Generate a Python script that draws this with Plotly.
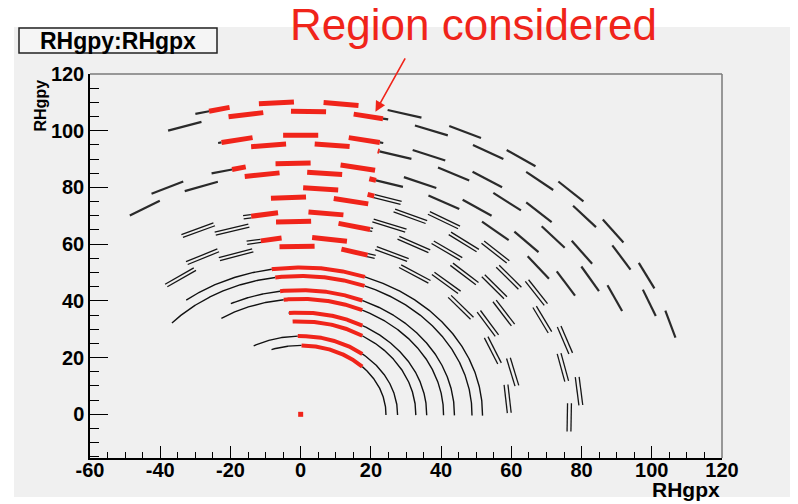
import numpy as np
import plotly.graph_objects as go

# ---------------- data ----------------
# Inner barrel: continuous arcs (radius, angular extent in degrees)
tib_radius    = [24.3, 27.6, 32.8, 35.9, 40.7, 43.8, 48.8, 51.8]
tib_phi_start = [-0.5, -0.5, -0.5, -0.5, -0.5, -0.5, -0.5, -0.5]
tib_phi_end   = [110.0, 119.0, 94.0, 95.5, 123.7, 117.0, 138.7, 129.0]

# Outer barrel: module centre angle (deg) and module radius, layer by layer
tob1_phi = [5.3, 13.9, 22.4, 31.0, 39.6, 48.2, 56.7, 65.3, 73.9, 82.4, 91.0, 99.6, 108.1, 116.7, 125.3]
tob1_r   = [59.2, 62.2, 59.2, 62.2, 59.2, 62.2, 59.2, 62.2, 59.2, 62.2, 59.2, 62.2, 59.2, 62.2, 59.2]
tob2_phi = [31.7, 39.2, 46.7, 54.2, 61.7, 69.2, 76.7, 84.2, 91.7, 99.2, 106.7, 114.2]
tob2_r   = [68.0, 71.2, 68.0, 71.2, 68.0, 71.2, 68.0, 71.2, 68.0, 71.2, 68.0, 71.2]
tob3_phi = [-0.8, 5.9, 12.5, 19.2, 25.9, 32.6, 39.2, 45.9, 52.6, 59.2, 65.9, 72.6, 79.2, 85.9, 92.6]
tob3_r   = [76.5, 79.7, 76.5, 79.7, 76.5, 79.7, 76.5, 79.7, 76.5, 79.7, 76.5, 79.7, 76.5, 79.7, 76.5]
tob4_phi = [31.4, 37.4, 43.4, 49.4, 55.4, 61.4, 67.4, 73.4, 79.4, 85.4, 91.4, 97.4, 103.4, 109.4, 115.4, 121.4]
tob4_r   = [88.5, 85.2, 88.5, 85.2, 88.5, 85.2, 88.5, 85.2, 88.5, 85.2, 88.5, 85.2, 88.5, 85.2, 88.5, 85.2]
tob5_phi = [24.6, 30.1, 35.5, 41.0, 46.4, 51.9, 57.3, 62.8, 68.2, 73.7, 79.1, 84.6, 90.0, 95.5, 100.9]
tob5_r   = [98.4, 95.3, 98.4, 95.3, 98.4, 95.3, 98.4, 95.3, 98.4, 95.3, 98.4, 95.3, 98.4, 95.3, 98.4]
tob6_phi = [16.8, 21.6, 26.4, 31.2, 36.0, 40.8, 45.6, 50.4, 55.2, 60.0, 64.8, 69.6, 74.4, 79.2,
            84.0, 88.8, 93.6, 98.4, 103.2, 108.0]
tob6_r   = [110.0, 106.8, 110.0, 106.8, 110.0, 106.8, 110.0, 106.8, 110.0, 106.8, 110.0, 106.8,
            110.0, 106.8, 110.0, 106.8, 110.0, 106.8, 110.0, 106.8]
module_width = 10.0

# Boundaries of the highlighted ("considered") region
region_left_y  = [20.0, 110.0]
region_left_x  = [1.6, -27.2]
region_right_y = [0.0, 40.0, 110.0]
region_right_x = [17.5, 17.5, 23.8]

# Vertex hit
vertex_x = [0.0]
vertex_y = [0.0]

# Axis ticks
x_tickvals = [-60, -40, -20, 0, 20, 40, 60, 80, 100, 120]
x_ticktext = ["-60", "-40", "-20", "0", "20", "40", "60", "80", "100", "120"]
y_tickvals = [0, 20, 40, 60, 80, 100, 120]
y_ticktext = ["0", "20", "40", "60", "80", "100", "120"]

# ---------------- geometry helpers ----------------
def in_region(x, y):
    xl = np.interp(y, region_left_y, region_left_x)
    xr = np.interp(y, region_right_y, region_right_x)
    return (x >= xl) & (x <= xr)


def runs(mask):
    out = []
    start = 0
    for i in range(1, len(mask) + 1):
        if i == len(mask) or mask[i] != mask[start]:
            out.append((start, i, bool(mask[start])))
            start = i
    return out


def append(store, xs, ys):
    store[0].extend(list(xs) + [None])
    store[1].extend(list(ys) + [None])


arc_black = ([], [])
arc_red = ([], [])
mod_black_double = ([], [])
mod_black_single = ([], [])
mod_red = ([], [])

for r, p0, p1 in zip(tib_radius, tib_phi_start, tib_phi_end):
    ph = np.radians(np.linspace(p0, p1, 500))
    xs, ys = r * np.cos(ph), r * np.sin(ph)
    m = in_region(xs, ys)
    for a, b, red in runs(m):
        a0 = max(a - 1, 0)
        append(arc_red if red else arc_black, xs[a0:b], ys[a0:b])

layers = [(tob1_phi, tob1_r, True), (tob2_phi, tob2_r, True), (tob3_phi, tob3_r, True),
          (tob4_phi, tob4_r, False), (tob5_phi, tob5_r, False), (tob6_phi, tob6_r, False)]
t = np.linspace(-module_width / 2, module_width / 2, 41)
for phis, rads, double in layers:
    for p, r in zip(phis, rads):
        ph = np.radians(p)
        cx, cy = r * np.cos(ph), r * np.sin(ph)
        tx, ty = -np.sin(ph), np.cos(ph)
        xs, ys = cx + t * tx, cy + t * ty
        m = in_region(xs, ys)
        for a, b, red in runs(m):
            a0 = max(a - 1, 0)
            if red:
                append(mod_red, xs[a0:b], ys[a0:b])
            elif double:
                for off in (-0.55, 0.55):
                    append(mod_black_double, xs[a0:b] + off * np.cos(ph), ys[a0:b] + off * np.sin(ph))
            else:
                append(mod_black_single, xs[a0:b], ys[a0:b])

RED = "#f0241a"
fig = go.Figure()
fig.add_trace(go.Scatter(x=arc_black[0], y=arc_black[1], mode="lines",
                         line=dict(color="#111111", width=1.4), hoverinfo="skip"))
fig.add_trace(go.Scatter(x=mod_black_double[0], y=mod_black_double[1], mode="lines",
                         line=dict(color="#161616", width=1.3), hoverinfo="skip"))
fig.add_trace(go.Scatter(x=mod_black_single[0], y=mod_black_single[1], mode="lines",
                         line=dict(color="#2a2a2a", width=2.2), hoverinfo="skip"))
fig.add_trace(go.Scatter(x=arc_red[0], y=arc_red[1], mode="lines",
                         line=dict(color=RED, width=4), hoverinfo="skip"))
fig.add_trace(go.Scatter(x=mod_red[0], y=mod_red[1], mode="lines",
                         line=dict(color=RED, width=5), hoverinfo="skip"))
fig.add_trace(go.Scatter(x=vertex_x, y=vertex_y, mode="markers",
                         marker=dict(color=RED, size=5, symbol="square"), hoverinfo="skip"))

BG = "#f0f0f0"
L, R, T, B = 90, 76, 74, 46
W, H = 798, 504
pw, ph_ = W - L - R, H - T - B


def px(xp):
    return (xp - L) / pw


def py(yp):
    return (H - B - yp) / ph_


axis_font = dict(family="Liberation Sans, Arial", size=20, color="black", weight="bold")
fig.update_layout(
    width=W, height=H, margin=dict(l=L, r=R, t=T, b=B, pad=0),
    paper_bgcolor=BG, plot_bgcolor=BG, showlegend=False,
    xaxis=dict(range=[-60, 120], showgrid=False, zeroline=False, showline=True,
               linecolor="black", linewidth=1.5, ticks="inside", ticklen=12, tickwidth=1.2,
               tickcolor="black", tickmode="array", tickvals=x_tickvals, ticktext=x_ticktext,
               tickfont=axis_font, ticklabelstandoff=-7,
               minor=dict(ticks="inside", ticklen=6, tickwidth=1, tickcolor="black",
                          tickmode="linear", tick0=0, dtick=5)),
    yaxis=dict(range=[-15.4, 120], showgrid=False, zeroline=False, showline=True,
               linecolor="black", linewidth=1.5, ticks="inside", ticklen=18, tickwidth=1.2,
               tickcolor="black", tickmode="array", tickvals=y_tickvals, ticktext=y_ticktext,
               tickfont=axis_font,
               minor=dict(ticks="inside", ticklen=9, tickwidth=1, tickcolor="black",
                          tickmode="linear", tick0=0, dtick=5)),
    shapes=[
        # white margins around the grey canvas
        dict(type="rect", xref="paper", yref="paper", x0=px(0), x1=px(W), y0=py(27), y1=py(0),
             fillcolor="white", line_width=0, layer="below"),
        dict(type="rect", xref="paper", yref="paper", x0=px(0), x1=px(14), y0=py(H), y1=py(0),
             fillcolor="white", line_width=0, layer="below"),
        dict(type="rect", xref="paper", yref="paper", x0=px(790), x1=px(W), y0=py(H), y1=py(0),
             fillcolor="white", line_width=0, layer="below"),
        dict(type="rect", xref="paper", yref="paper", x0=px(0), x1=px(W), y0=py(H), y1=py(497),
             fillcolor="white", line_width=0, layer="below"),
        # frame top / right
        dict(type="line", xref="paper", yref="paper", x0=0, x1=1, y0=1, y1=1,
             line=dict(color="#7a7a7a", width=1.5)),
        dict(type="line", xref="paper", yref="paper", x0=1, x1=1, y0=0, y1=1,
             line=dict(color="#7a7a7a", width=1.5)),
        # title box
        dict(type="rect", xref="paper", yref="paper", x0=px(19), x1=px(217), y0=py(53), y1=py(28),
             fillcolor="#f5f5f5", line=dict(color="#222222", width=1.5)),
    ],
    annotations=[
        dict(text="RHgpy:RHgpx", xref="paper", yref="paper", x=px(118), y=py(40.5),
             xanchor="center", yanchor="middle", showarrow=False,
             font=dict(family="Liberation Sans, Arial", size=23, color="black", weight="bold")),
        dict(text="Region considered", xref="paper", yref="paper", x=px(473.5), y=py(25),
             xanchor="center", yanchor="middle", showarrow=False,
             font=dict(family="Liberation Sans, Arial", size=44, color=RED)),
        dict(text="", x=21.3, y=106.7, xref="x", yref="y", ax=30.0, ay=126.0, axref="x", ayref="y",
             showarrow=True, arrowhead=2, arrowsize=1.3, arrowwidth=1.6, arrowcolor=RED),
        dict(text="RHgpy", xref="paper", yref="paper", x=px(40), y=py(105.5), textangle=-90,
             xanchor="center", yanchor="middle", showarrow=False,
             font=dict(family="Liberation Sans, Arial", size=16, color="black", weight="bold")),
        dict(text="RHgpx", xref="paper", yref="paper", x=1.0, y=py(489),
             xanchor="right", yanchor="middle", showarrow=False,
             font=dict(family="Liberation Sans, Arial", size=21, color="black", weight="bold")),
    ],
)

fig.write_html("out.html")
